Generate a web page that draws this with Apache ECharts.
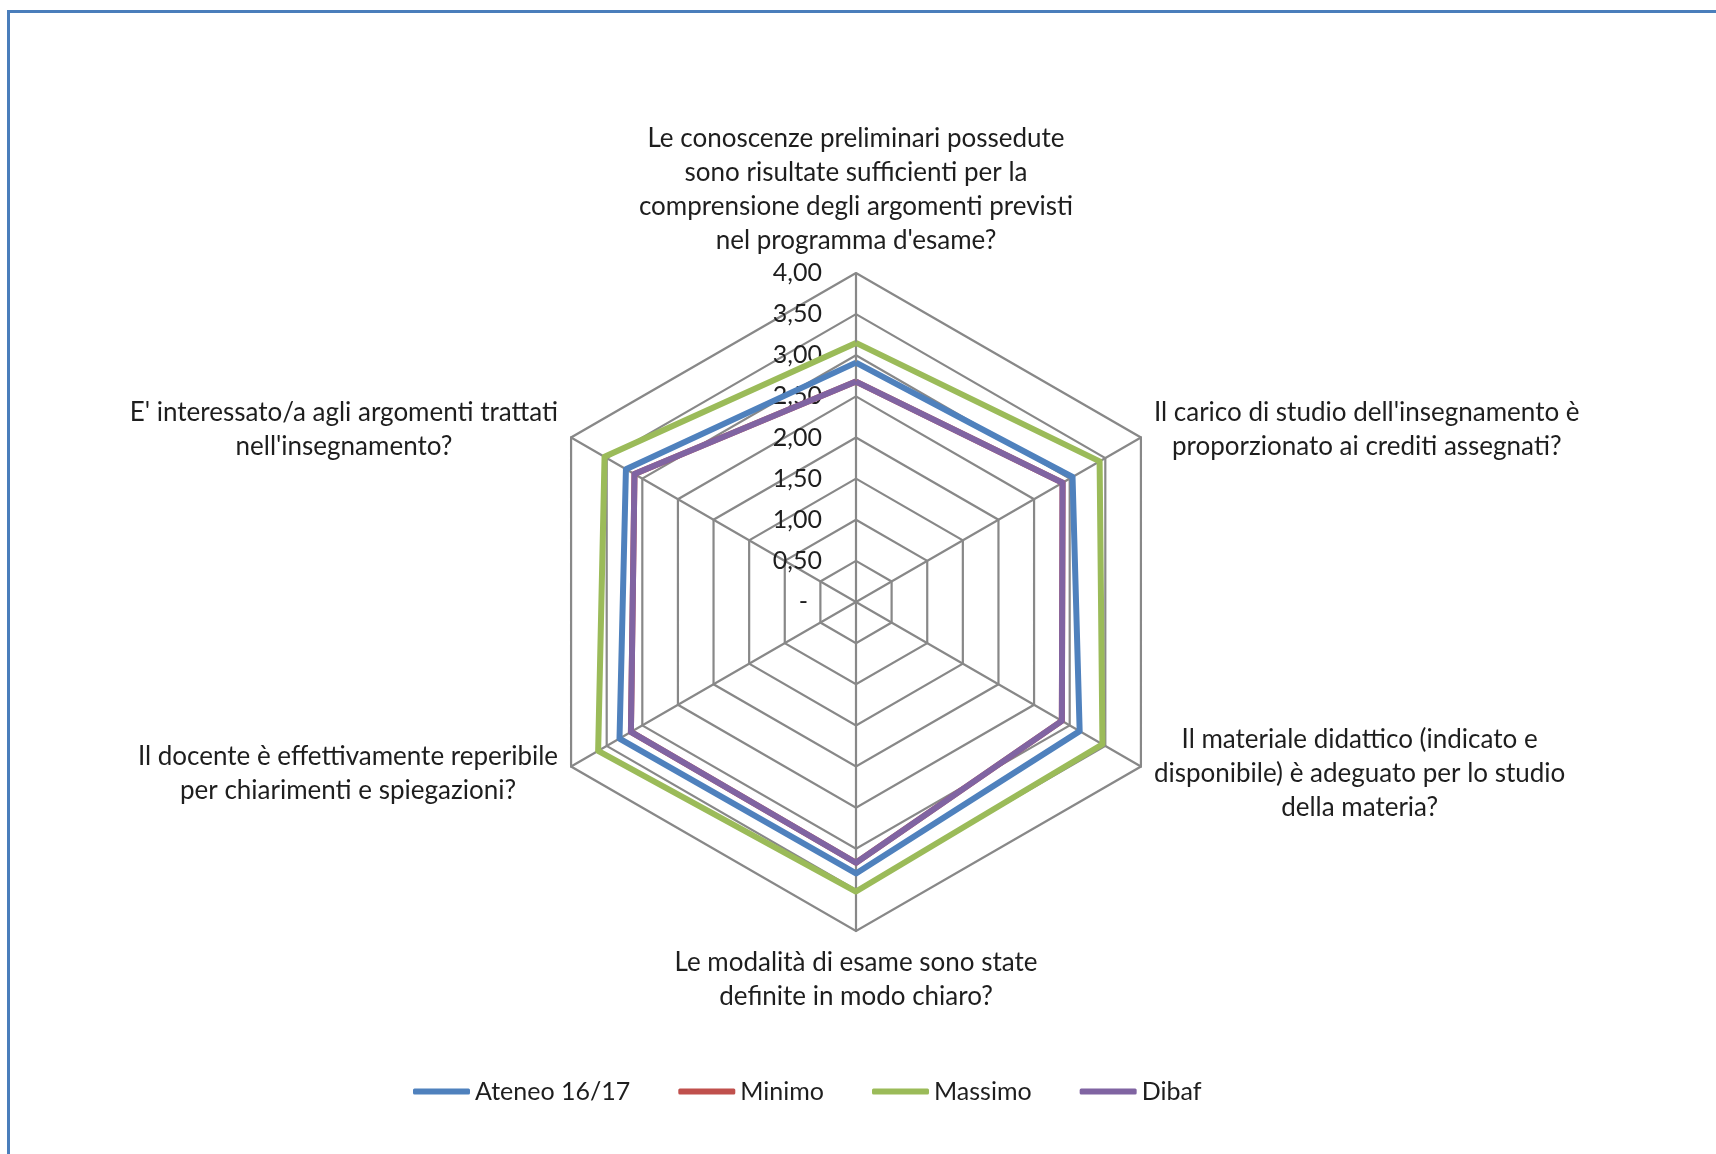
<!DOCTYPE html>
<html lang="it">
<head>
<meta charset="UTF-8">
<title>Questionario - radar</title>
<script src="https://cdn.jsdelivr.net/npm/echarts@6/dist/echarts.min.js"></script>
<style>
    * { margin: 0; padding: 0; }
    body { background: #fff; overflow: hidden; }
    #main { width: 1716px; height: 1154px; }
    #frame {
        position: absolute; left: 7px; top: 10px;
        width: 1800px; height: 1300px;
        border-left: 3px solid #4a7ebb; border-top: 3px solid #4a7ebb;
        pointer-events: none;
    }
</style>
</head>
<body>
<div id="main"></div>
<div id="frame"></div>
<script>
    // domande in ordine orario partendo dall'alto
    var domande = [
        ['Le conoscenze preliminari possedute', 'sono risultate sufficienti per la', 'comprensione degli argomenti previsti', "nel programma d'esame?"],
        ["Il carico di studio dell'insegnamento è", 'proporzionato ai crediti assegnati?'],
        ['Il materiale didattico (indicato e', 'disponibile) è adeguato per lo studio', 'della materia?'],
        ['Le modalità di esame sono state', 'definite in modo chiaro?'],
        ['Il docente è effettivamente reperibile', 'per chiarimenti e spiegazioni?'],
        ["E' interessato/a agli argomenti trattati", "nell'insegnamento?"]
    ];
    var ateneo = [2.91, 3.04, 3.14, 3.30, 3.32, 3.23];
    var minimo = [2.68, 2.90, 2.89, 3.17, 3.16, 3.11];
    var massimo = [3.15, 3.42, 3.46, 3.52, 3.62, 3.53];
    var dibaf = [2.68, 2.90, 2.89, 3.17, 3.16, 3.11];
    var nomiSerie = ['Ateneo 16/17', 'Minimo', 'Massimo', 'Dibaf'];
    var colori = ['#4f81bd', '#c0504d', '#9bbb59', '#8064a2'];
    var scalaMax = 4;

    var font = 'Lato';
    var testo = '#1e1e1e';

    // echarts disegna il radar in senso antiorario: riordino
    var ordine = [0, 5, 4, 3, 2, 1];
    function riordina(arr) {
        return ordine.map(function (i) { return arr[i]; });
    }

    var indicatori = riordina(domande).map(function (righe, k) {
        var ind = { name: righe.join('\n'), min: 0, max: scalaMax };
        if (k === 0) {
            ind.axisLabel = {
                show: true,
                margin: 34,
                fontFamily: font,
                fontSize: 25,
                color: testo,
                formatter: function (v) {
                    if (v === 0) return '{z|-}';
                    return v.toFixed(2).replace('.', ',');
                },
                rich: {
                    z: { fontFamily: font, fontSize: 25, color: testo, padding: [0, 14, 0, 0] }
                }
            };
        }
        return ind;
    });

    var valori = [ateneo, minimo, massimo, dibaf];

    var chartDom = document.getElementById('main');
    var myChart = echarts.init(chartDom);

    option = {
        animation: false,
        backgroundColor: '#fff',
        legend: {
            left: 408,
            top: 1074,
            icon: 'roundRect',
            itemWidth: 57,
            itemHeight: 6,
            itemGap: 48,
            textStyle: { fontFamily: font, fontSize: 25, color: testo },
            data: nomiSerie
        },
        radar: {
            center: [856, 602],
            radius: 329,
            startAngle: 90,
            splitNumber: 8,
            shape: 'polygon',
            nameGap: 15,
            axisName: {
                color: testo,
                fontFamily: font,
                fontSize: 26,
                lineHeight: 34,
                formatter: function (name) {
                    return name.split('\n').map(function (r) {
                        return '{c|' + r + '}';
                    }).join('\n');
                },
                rich: {
                    c: { align: 'center', fontFamily: font, fontSize: 26, lineHeight: 34, color: testo }
                }
            },
            axisLabel: { show: false },
            axisLine: { lineStyle: { color: '#888888', width: 2.2 } },
            splitLine: { lineStyle: { color: '#888888', width: 2.2 } },
            splitArea: { show: false },
            indicator: indicatori
        },
        series: [{
            type: 'radar',
            symbol: 'none',
            silent: true,
            data: nomiSerie.map(function (n, i) {
                return {
                    name: n,
                    value: riordina(valori[i]),
                    itemStyle: { color: colori[i] },
                    lineStyle: { color: colori[i], width: 6 }
                };
            })
        }]
    };
    myChart.setOption(option);
</script>
</body>
</html>
